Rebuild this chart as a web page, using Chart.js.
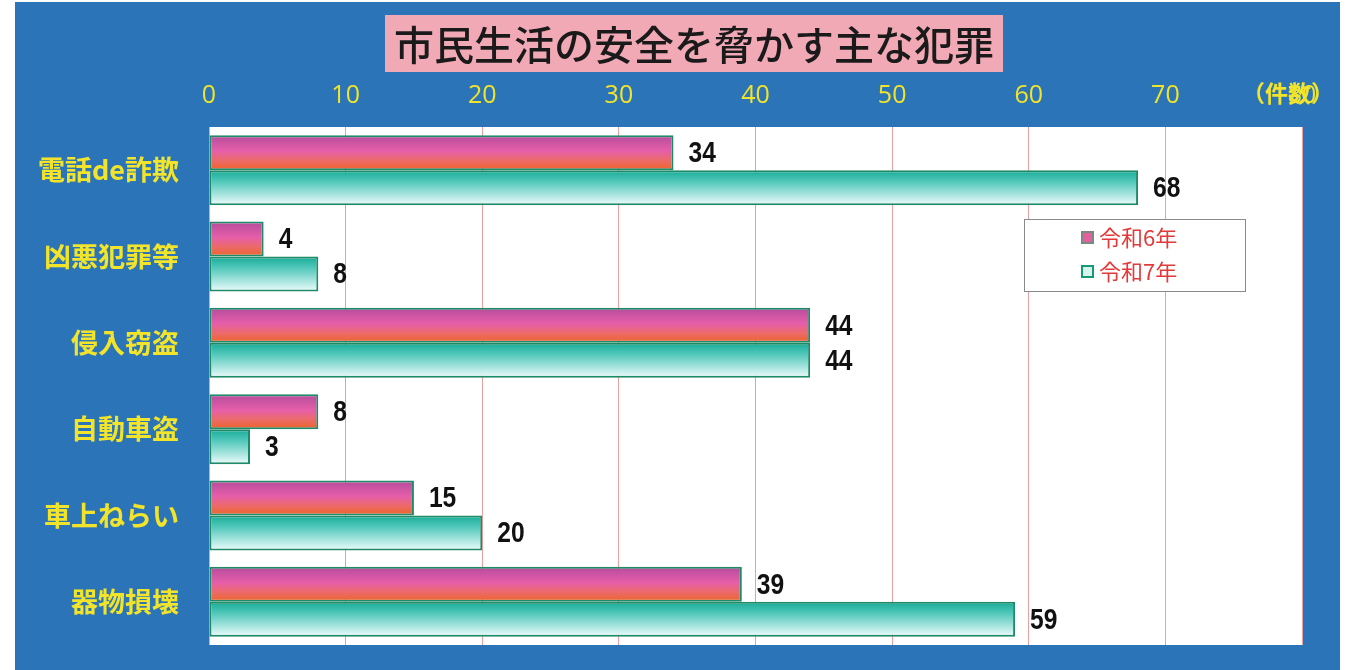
<!DOCTYPE html>
<html>
<head>
<meta charset="utf-8">
<script src="https://cdn.jsdelivr.net/npm/chart.js@4.4.1/dist/chart.umd.min.js"></script>
<style>
  html, body { margin: 0; padding: 0; background: #fff; }
  #wrap { width: 1360px; height: 670px; }
</style>
</head>
<body>
<div id="wrap"><canvas id="grafico" width="1360" height="670"></canvas></div>
<script>
// Datos del gráfico
const categorias = ['電話de詐欺', '凶悪犯罪等', '侵入窃盗', '自動車盗', '車上ねらい', '器物損壊'];
const reiwa6 = [34, 4, 44, 8, 15, 39];
const reiwa7 = [68, 8, 44, 3, 20, 59];
const etiquetasSerie = ['令和6年', '令和7年'];
const titulo = '市民生活の安全を脅かす主な犯罪';
const unidad = '（件数）';

const AZUL = '#2c74b8';
const AMARILLO = '#f2e42a';
const CJK = '"Noto Sans CJK JP", "Noto Sans", sans-serif';

// Degradado por barra (usa la posición de la categoría en la escala)
function degradado(context, colores) {
  const chart = context.chart;
  const area = chart.chartArea;
  if (!area || context.dataIndex === undefined) return colores[1][1];
  const y = chart.scales.y;
  const centro = y.getPixelForValue(context.dataIndex);
  const alto = (area.height / categorias.length) * 0.81 / 2;
  const top = context.datasetIndex === 0 ? centro - alto : centro;
  const g = chart.ctx.createLinearGradient(0, top, 0, top + alto);
  colores.forEach(([p, c]) => g.addColorStop(p, c));
  return g;
}

const coloresRosa = [[0, '#b44c9c'], [0.45, '#e65eaa'], [0.72, '#ec6a6a'], [1, '#ee6428']];
const coloresVerde = [[0, '#18aa96'], [0.3, '#4cc6b8'], [1, '#eefcfc']];

const fondo = {
  id: 'fondo',
  beforeDraw(chart) {
    const { ctx, chartArea: a } = chart;
    ctx.save();
    ctx.fillStyle = '#ffffff';
    ctx.fillRect(0, 0, chart.width, chart.height);
    ctx.fillStyle = AZUL;
    ctx.fillRect(15, 2, 1325, 668);
    ctx.fillStyle = '#ffffff';
    ctx.fillRect(a.left, a.top, a.right - a.left, a.bottom - a.top);
    // título
    ctx.fillStyle = '#f2a9b6';
    ctx.fillRect(385, 15, 618, 57);
    ctx.fillStyle = '#1a1a1a';
    ctx.font = '500 40px ' + CJK;
    ctx.textAlign = 'center';
    ctx.textBaseline = 'middle';
    ctx.fillText(titulo, 694, 45);
    // unidad
    ctx.fillStyle = AMARILLO;
    ctx.font = 'bold 23px ' + CJK;
    ctx.fillText(unidad, 1288, 93);
    ctx.restore();
  }
};

const extras = {
  id: 'extras',
  afterDatasetsDraw(chart) {
    const { ctx } = chart;
    ctx.save();
    ctx.fillStyle = '#111';
    ctx.font = 'bold 30px "Liberation Sans", Arial, sans-serif';
    ctx.textAlign = 'left';
    ctx.textBaseline = 'middle';
    chart.data.datasets.forEach((ds, i) => {
      chart.getDatasetMeta(i).data.forEach((bar, j) => {
        // texto estrecho como en el original
        ctx.save();
        ctx.translate(bar.x + 15, bar.y + 1);
        ctx.scale(0.82, 1);
        ctx.fillText(ds.data[j], 0, 0);
        ctx.restore();
      });
    });
    // leyenda
    ctx.fillStyle = '#fff';
    ctx.fillRect(1024, 219, 221, 72);
    ctx.strokeStyle = '#8a8a8a';
    ctx.lineWidth = 1;
    ctx.strokeRect(1024.5, 219.5, 221, 72);
    const items = [
      { y: 238, fill: '#e2609e', borde: '#7a8a80' },
      { y: 272, fill: '#d8f2ee', borde: '#159a78' }
    ];
    ctx.font = '22px ' + CJK;
    items.forEach((it, k) => {
      ctx.fillStyle = it.fill;
      ctx.fillRect(1082, it.y - 6, 11, 11);
      ctx.strokeStyle = it.borde;
      ctx.lineWidth = 2;
      ctx.strokeRect(1082, it.y - 6, 11, 11);
      ctx.fillStyle = '#e23a3a';
      ctx.fillText(etiquetasSerie[k], 1099, it.y);
    });
    ctx.restore();
  }
};

new Chart(document.getElementById('grafico').getContext('2d'), {
  type: 'bar',
  data: {
    labels: categorias,
    datasets: [
      {
        label: etiquetasSerie[0],
        data: reiwa6,
        backgroundColor: (c) => degradado(c, coloresRosa),
        borderColor: '#1f8a68',
        borderWidth: 2,
        borderSkipped: false,
        categoryPercentage: 0.81,
        barPercentage: 1.0
      },
      {
        label: etiquetasSerie[1],
        data: reiwa7,
        backgroundColor: (c) => degradado(c, coloresVerde),
        borderColor: '#1f8a68',
        borderWidth: 2,
        borderSkipped: false,
        categoryPercentage: 0.81,
        barPercentage: 1.0
      }
    ]
  },
  options: {
    indexAxis: 'y',
    responsive: false,
    animation: false,
    layout: { padding: { left: 0, top: 0, right: 58, bottom: 25 } },
    plugins: {
      legend: { display: false },
      tooltip: { enabled: false },
      title: { display: false }
    },
    scales: {
      x: {
        position: 'top',
        min: 0,
        max: 80,
        ticks: {
          stepSize: 10,
          color: AMARILLO,
          padding: 16,
          font: { family: '"Open Sans", "Noto Sans", sans-serif', size: 25 }
        },
        grid: { color: '#eaa0a0', lineWidth: 1, drawTicks: false },
        border: { display: false },
        afterFit(s) { s.height = 127; }
      },
      y: {
        ticks: {
          color: AMARILLO,
          padding: 22,
          font: { family: CJK, size: 27, weight: 'bold' }
        },
        grid: { display: false },
        border: { display: false },
        afterFit(s) { s.width = 209; s.paddingTop = 0; s.paddingBottom = 0; }
      }
    }
  },
  plugins: [fondo, extras]
});
</script>
</body>
</html>
